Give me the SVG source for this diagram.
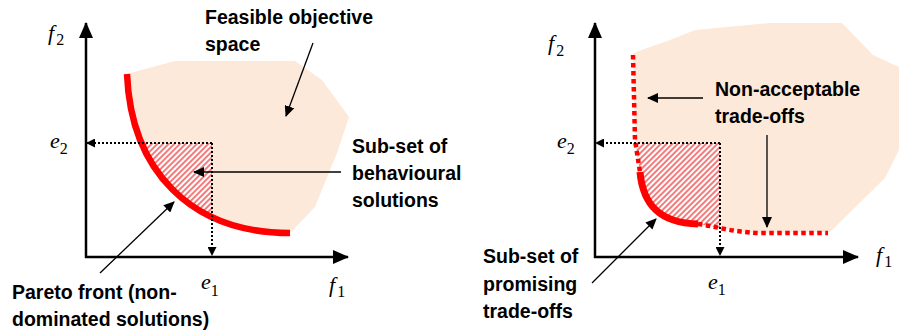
<svg xmlns="http://www.w3.org/2000/svg" width="899" height="331" viewBox="0 0 899 331">
<style>
.lbl{font-family:"Liberation Sans",Arial,sans-serif;font-weight:bold;font-size:19.5px;fill:#000}
.it{font-family:"Liberation Serif","Times New Roman",serif;font-style:italic;font-size:22px;fill:#000}
.sub{font-family:"Liberation Serif","Times New Roman",serif;font-style:normal;font-size:16px;fill:#000}
.axis{stroke:#000;stroke-width:2.5;fill:none;marker-end:url(#axh)}
.guide{stroke:#000;stroke-width:2;stroke-dasharray:2 2;fill:none;marker-end:url(#dh)}
.thin{stroke:#000;stroke-width:1.3;fill:none;marker-end:url(#ah)}
.feas{fill:#FDE9D9;stroke:none}
.front{stroke:#FF0000;stroke-width:6.5;fill:none}
.frontdot{stroke:#FF0000;stroke-width:4.5;stroke-dasharray:4.5 3.5;fill:none}
</style>
<defs>
<marker id="axh" markerUnits="userSpaceOnUse" markerWidth="16" markerHeight="14" refX="15" refY="7" orient="auto"><path d="M0,0 L16,7 L0,14 Z" fill="#000"/></marker>
<marker id="dh" markerUnits="userSpaceOnUse" markerWidth="9" markerHeight="9" refX="8" refY="4.5" orient="auto"><path d="M0,0 L9,4.5 L0,9 Z" fill="#000"/></marker>
<marker id="ah" markerUnits="userSpaceOnUse" markerWidth="11" markerHeight="10" refX="10" refY="5" orient="auto"><path d="M0,0 L11,5 L0,10 Z" fill="#000"/></marker>
<pattern id="hatch" patternUnits="userSpaceOnUse" width="4" height="4" patternTransform="rotate(45)"><rect width="4" height="4" fill="#fff"/><line x1="1" y1="0" x2="1" y2="4" stroke="#F26464" stroke-width="1.7"/></pattern>
<clipPath id="clipL"><path d="M127,74 C131,170 190,233 290,233 L290,74 Z"/></clipPath>
<clipPath id="clipR"><path d="M633,53 L635,140 L640,172 C643,205 660,223 698,224 C715,226 730,232 760,233 L830,233 L830,53 Z"/></clipPath>
</defs>

<g id="left-panel">
<path id="feasible-left" class="feas" d="M127,74 C131,170 190,233 290,233 L292,231 L315,207 L337,153 L349,117 L322,80 L295,61 L175,61 L130,73 Z"/>
<rect id="behavioural-region" x="100" y="143" width="112" height="100" fill="url(#hatch)" clip-path="url(#clipL)"/>
<path id="pareto-front" class="front" d="M127,74 C131,170 190,233 290,233"/>
</g>

<g id="right-panel">
<path id="feasible-right" class="feas" d="M633,53 L670,40 L695,30 L770,23 L842,23 L873,55 L899,67 L899,150 L885,178 L830,232 L760,233 C730,232 715,226 698,224 C660,223 643,205 640,172 L635,140 Z"/>
<rect id="promising-region" x="620" y="143" width="100" height="100" fill="url(#hatch)" clip-path="url(#clipR)"/>
<path id="front-upper" class="frontdot" d="M633,55 L635,140 L640,172"/>
<path id="front-promising" stroke="#FF0000" stroke-width="7" fill="none" d="M640,172 C643,205 660,223 698,224"/>
<path id="front-lower" class="frontdot" d="M698,224 C715,226 730,232 760,233 L828,233"/>
</g>

<g id="connectors">
<path class="axis" d="M86,258 L86,23"/>
<path class="axis" d="M85,257 L348,257"/>
<path class="guide" d="M212,143 L87,143"/>
<path class="guide" d="M212,143 L212,255"/>
<path class="thin" d="M313,43 L286,116"/>
<path class="thin" d="M341,172 L194,172"/>
<path class="thin" d="M100,273 L174,202"/>

<path class="axis" d="M595,258 L595,23"/>
<path class="axis" d="M594,257 L858,257"/>
<path class="guide" d="M720,143 L596,143"/>
<path class="guide" d="M720,143 L720,255"/>
<path class="thin" d="M703,98 L648,98"/>
<path class="thin" d="M767,135 L767,227"/>
<path class="thin" d="M592,283 L656,219"/>
</g>

<g id="axis-labels">
<text class="it" x="48" y="40">f<tspan class="sub" dx="2" dy="5">2</tspan></text>
<text class="it" x="50" y="148">e<tspan class="sub" dx="0" dy="6">2</tspan></text>
<text class="it" x="201" y="289">e<tspan class="sub" dx="0" dy="7">1</tspan></text>
<text class="it" x="329" y="292">f<tspan class="sub" dx="2" dy="5">1</tspan></text>

<text class="it" x="548" y="50">f<tspan class="sub" dx="2" dy="6">2</tspan></text>
<text class="it" x="557" y="148">e<tspan class="sub" dx="0" dy="6">2</tspan></text>
<text class="it" x="708" y="289">e<tspan class="sub" dx="0" dy="6">1</tspan></text>
<text class="it" x="876" y="262">f<tspan class="sub" dx="2" dy="5">1</tspan></text>
</g>

<g id="label-feasible"><text class="lbl" x="205" y="24">Feasible objective</text><text class="lbl" x="205" y="51">space</text></g>
<g id="label-behavioural"><text class="lbl" x="352" y="153">Sub-set of</text><text class="lbl" x="352" y="180">behavioural</text><text class="lbl" x="352" y="207">solutions</text></g>
<g id="label-pareto"><text class="lbl" x="12" y="299">Pareto front (non-</text><text class="lbl" x="12" y="326">dominated solutions)</text></g>
<g id="label-nonacceptable"><text class="lbl" x="715" y="96">Non-acceptable</text><text class="lbl" x="715" y="123">trade-offs</text></g>
<g id="label-promising"><text class="lbl" x="483" y="263">Sub-set of</text><text class="lbl" x="483" y="291">promising</text><text class="lbl" x="483" y="318">trade-offs</text></g>
</svg>
